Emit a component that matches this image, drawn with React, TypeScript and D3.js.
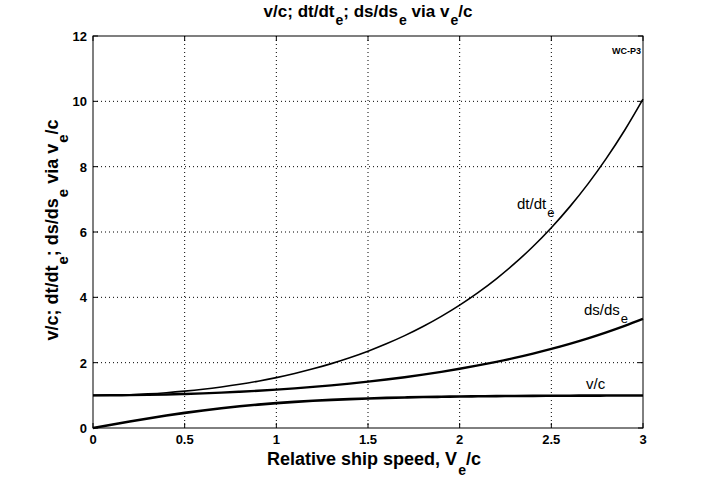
import React from "react";
import * as d3 from "d3";

const xs = [0, 0.1, 0.2, 0.3, 0.4, 0.5, 0.6, 0.7, 0.8, 0.9, 1.0, 1.1, 1.2, 1.3, 1.4, 1.5, 1.6, 1.7, 1.8, 1.9, 2.0, 2.1, 2.2, 2.3, 2.4, 2.5, 2.6, 2.7, 2.8, 2.9, 3.0];
const dtdte = [1.0, 1.005, 1.02, 1.045, 1.081, 1.128, 1.185, 1.255, 1.337, 1.433, 1.543, 1.669, 1.811, 1.971, 2.151, 2.352, 2.577, 2.828, 3.107, 3.418, 3.762, 4.144, 4.568, 5.037, 5.557, 6.132, 6.769, 7.473, 8.253, 9.115, 10.068];
const dsdse = [1.0, 1.002, 1.007, 1.015, 1.027, 1.042, 1.061, 1.083, 1.11, 1.141, 1.175, 1.214, 1.258, 1.306, 1.36, 1.419, 1.484, 1.555, 1.633, 1.718, 1.813, 1.915, 2.026, 2.146, 2.278, 2.42, 2.575, 2.743, 2.926, 3.124, 3.339];
const vc = [0, 0.1, 0.197, 0.291, 0.38, 0.462, 0.537, 0.604, 0.664, 0.716, 0.762, 0.8, 0.834, 0.862, 0.885, 0.905, 0.922, 0.935, 0.947, 0.956, 0.964, 0.97, 0.976, 0.98, 0.984, 0.987, 0.989, 0.991, 0.993, 0.994, 0.995];
const xTicks = [0, 0.5, 1, 1.5, 2, 2.5, 3];
const xTickLabels = ["0", "0.5", "1", "1.5", "2", "2.5", "3"];
const yTicks = [0, 2, 4, 6, 8, 10, 12];

const W = 712, H = 481;
const L = 93, R = 643, T = 36, B = 428;
const FONT = "'Liberation Sans', Arial, sans-serif";

function Sub({ parts, size, sub, dy }: { parts: string[]; size: number; sub: number; dy: number }) {
  return (
    <>
      {parts.map((p, i) =>
        i % 2 === 0 ? (
          <tspan key={i} dy={i === 0 ? 0 : -dy} fontSize={size}>{p}</tspan>
        ) : (
          <tspan key={i} dy={dy} dx={1} fontSize={sub}>{p}</tspan>
        )
      )}
    </>
  );
}

export default function App() {
  const x = d3.scaleLinear().domain([0, 3]).range([L, R]);
  const y = d3.scaleLinear().domain([0, 12]).range([B, T]);
  const line = (vals: number[]) =>
    d3.line<number>().x((_, i) => x(xs[i])).y((v) => y(v)).curve(d3.curveMonotoneX)(vals) || "";

  const titleParts = ["v/c; dt/dt", "e", "; ds/ds", "e", " via v", "e", "/c"];

  return (
    <svg width={W} height={H} style={{ position: "absolute", left: 0, top: 0, background: "#fff" }} fontFamily={FONT}>
      <rect x={0} y={0} width={W} height={H} fill="#fff" />
      {xTicks.slice(1, -1).map((t) => (
        <line key={"gx" + t} x1={x(t)} x2={x(t)} y1={T} y2={B} stroke="#000" strokeWidth={1} strokeDasharray="1,3" />
      ))}
      {yTicks.slice(1, -1).map((t) => (
        <line key={"gy" + t} x1={L} x2={R} y1={y(t)} y2={y(t)} stroke="#000" strokeWidth={1} strokeDasharray="1,3" />
      ))}
      {xTicks.map((t) => (
        <g key={"tx" + t}>
          <line x1={x(t)} x2={x(t)} y1={B} y2={B - 5} stroke="#000" />
          <line x1={x(t)} x2={x(t)} y1={T} y2={T + 5} stroke="#000" />
        </g>
      ))}
      {yTicks.map((t) => (
        <g key={"ty" + t}>
          <line x1={L} x2={L + 5} y1={y(t)} y2={y(t)} stroke="#000" />
          <line x1={R} x2={R - 5} y1={y(t)} y2={y(t)} stroke="#000" />
        </g>
      ))}
      <rect x={L} y={T} width={R - L} height={B - T} fill="none" stroke="#000" strokeWidth={1} />
      <path d={line(dtdte)} fill="none" stroke="#000" strokeWidth={1.6} />
      <path d={line(dsdse)} fill="none" stroke="#000" strokeWidth={2.4} />
      <path d={line(vc)} fill="none" stroke="#000" strokeWidth={2.6} />
      {xTicks.map((t, i) => (
        <text key={"lx" + t} x={x(t)} y={B + 16} fontSize={13} fontWeight="bold" textAnchor="middle">{xTickLabels[i]}</text>
      ))}
      {yTicks.map((t) => (
        <text key={"ly" + t} x={L - 6} y={y(t) + 5} fontSize={13} fontWeight="bold" textAnchor="end">{t}</text>
      ))}
      <text x={368} y={17} fontWeight="bold" textAnchor="middle">
        <Sub parts={titleParts} size={17} sub={14} dy={8} />
      </text>
      <text x={374} y={465} fontWeight="bold" textAnchor="middle">
        <Sub parts={["Relative ship speed, V", "e", "/c"]} size={18} sub={14} dy={10} />
      </text>
      <text transform={`translate(58,230) rotate(-90)`} fontWeight="bold" textAnchor="middle">
        <Sub parts={titleParts} size={18} sub={15} dy={10} />
      </text>
      <text x={517} y={209}>
        <Sub parts={["dt/dt", "e"]} size={15} sub={13} dy={8} />
      </text>
      <text x={584} y={315}>
        <Sub parts={["ds/ds", "e"]} size={15} sub={13} dy={8} />
      </text>
      <text x={586} y={389} fontSize={15}>v/c</text>
      <text x={641} y={54} fontSize={9} fontWeight="bold" textAnchor="end">WC-P3</text>
    </svg>
  );
}
